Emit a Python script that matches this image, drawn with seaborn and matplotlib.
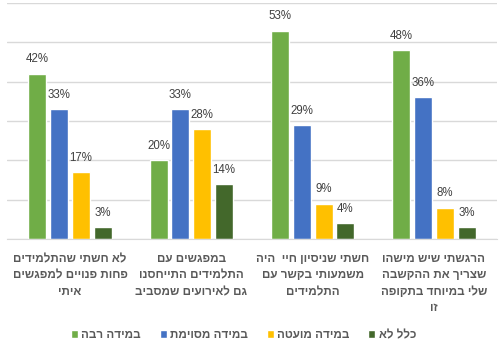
import pandas as pd
import numpy as np
import matplotlib.pyplot as plt
import seaborn as sns

# data
statements = [
    "לא חשתי שהתלמידים\nפחות פנויים למפגשים\nאיתי",
    "במפגשים עם\nהתלמידים התייחסנו\nגם לאירועים שמסביב",
    "חשתי שניסיון חיי  היה\nמשמעותי בקשר עם\nהתלמידים",
    "הרגשתי שיש מישהו\nשצריך את ההקשבה\nשלי במיוחד בתקופה\nזו",
]
levels = ["במידה רבה", "במידה מסוימת", "במידה מועטה", "כלל לא"]
much = [42, 20, 53, 48]
somewhat = [33, 33, 29, 36]
little = [17, 28, 9, 8]
not_at_all = [3, 14, 4, 3]

colors = ["#70AD47", "#4472C4", "#FFC000", "#43682B"]


def rtl(s):
    # matplotlib has no bidi support, so flip each Hebrew line by hand
    return "\n".join(line[::-1] for line in s.split("\n"))


rows = []
for i, st in enumerate(statements):
    for lvl, vals in zip(levels, [much, somewhat, little, not_at_all]):
        rows.append({"statement": rtl(st), "level": rtl(lvl), "pct": vals[i]})
df = pd.DataFrame(rows)

sns.set_style("white")
plt.rcParams["font.family"] = ["Liberation Sans", "DejaVu Sans"]

fig = plt.figure(figsize=(5.0, 3.52), dpi=100)
ax = fig.add_axes([0.014, 0.321, 0.98, 0.6705])

sns.barplot(data=df, x="statement", y="pct", hue="level",
            hue_order=[rtl(l) for l in levels], palette=colors,
            saturation=1, width=0.72, gap=0.18, ax=ax, legend=True)

for cont in ax.containers:
    ax.bar_label(cont, fmt="%d%%", padding=6, fontsize=8.3, color="#404040")

ax.set_ylim(0, 60)
ax.set_xlim(-0.52, 3.52)
ax.set_yticks(np.arange(0, 61, 10))
ax.set_yticklabels([])
ax.tick_params(axis="y", length=0)
ax.tick_params(axis="x", length=0, pad=10)
ax.yaxis.grid(True, color="#D9D9D9", linewidth=1)
ax.set_axisbelow(True)
for lab in ax.get_xticklabels():
    lab.set_fontsize(8.4)
    lab.set_fontweight("bold")
    lab.set_color("#595959")
    lab.set_linespacing(1.5)
for side in ["left", "right", "top"]:
    ax.spines[side].set_visible(False)
ax.spines["bottom"].set_color("#D9D9D9")
ax.set_xlabel("")
ax.set_ylabel("")

handles, labels = ax.get_legend_handles_labels()
ax.get_legend().remove()
leg = fig.legend(handles, labels, loc="center", bbox_to_anchor=(0.487, 0.048),
                 ncol=4, frameon=False, handlelength=0.6, handleheight=0.6,
                 handletextpad=0.3, columnspacing=1.6,
                 prop={"size": 8.4, "weight": "bold"})
for t in leg.get_texts():
    t.set_color("#595959")

fig.savefig("out.png", dpi=100)
